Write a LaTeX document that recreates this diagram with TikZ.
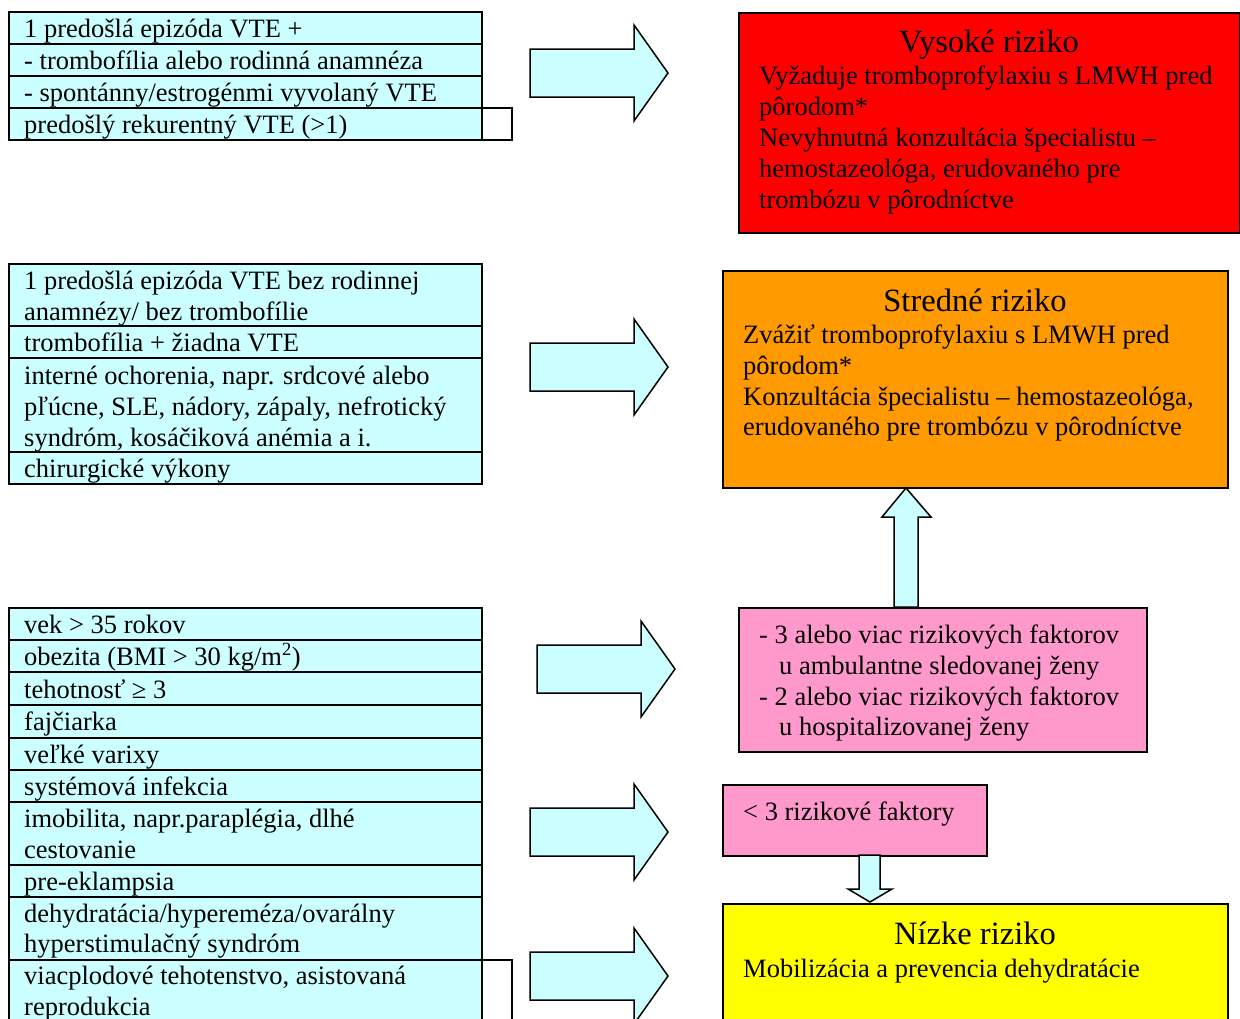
\documentclass[tikz,border=0pt]{standalone}
\usepackage{fontspec}
\setmainfont{Liberation Serif}
\definecolor{lcyan}{HTML}{CCFFFF}
\definecolor{rred}{HTML}{FF0000}
\definecolor{rorange}{HTML}{FF9900}
\definecolor{rpink}{HTML}{FF99CC}
\definecolor{ryellow}{HTML}{FFFF00}
\begin{document}
\begin{tikzpicture}[x=1pt,y=-1pt,
  cell/.style={draw=black,line width=2pt,fill=lcyan},
  emptycell/.style={draw=black,line width=2pt},
  riskbox/.style={draw=black,line width=2pt,anchor=north west,inner sep=0pt},
  txt/.style={anchor=base west,inner sep=0pt,font=\fontsize{26.5}{31}\selectfont},
  ttl/.style={anchor=base,inner sep=0pt,font=\fontsize{32.5}{38}\selectfont},
  blockarrow/.style={draw=black,line width=1.5pt,fill=lcyan,line join=miter},
]
\useasboundingbox (0,0) rectangle (1240,1018);
\clip (0,0) rectangle (1240,1018);

% ---------- Table 1 ----------
\draw[emptycell] (482,108) rectangle (512,140);
\foreach \a/\b [count=\i] in {12/44,44/76,76/108,108/140}
  \draw[cell] (9,\a) rectangle (482,\b);
\node[txt] (a1) at (24,37) {1 predošlá epizóda VTE +};
\node[txt] (a2) at (24,69) {- trombofília alebo rodinná anamnéza};
\node[txt] (a3) at (24,101) {- spontánny/estrogénmi vyvolaný VTE};
\node[txt] (a4) at (24,133) {predošlý rekurentný VTE (>1)};

% ---------- Table 2 ----------
\foreach \a/\b in {264/326,326/358,358/452,452/484}
  \draw[cell] (9,\a) rectangle (482,\b);
\node[txt] (b1) at (24,289) {1 predošlá epizóda VTE bez rodinnej};
\node[txt] (b2) at (24,320) {anamnézy/ bez trombofílie};
\node[txt] (b3) at (24,351) {trombofília + žiadna VTE};
\node[txt] (b4) at (24,384) {interné ochorenia, napr. srdcové alebo};
\node[txt] (b5) at (24,415) {pľúcne, SLE, nádory, zápaly, nefrotický};
\node[txt] (b6) at (24,446) {syndróm, kosáčiková anémia a i.};
\node[txt] (b7) at (24,477) {chirurgické výkony};

% ---------- Table 3 ----------
\draw[emptycell] (482,960) rectangle (512,1030);
\foreach \a/\b in {608/640,640/672,672/705,705/738,738/770,770/802,802/865,865/897,897/960,960/1030}
  \draw[cell] (9,\a) rectangle (482,\b);
\node[txt] (c1) at (24,633) {vek > 35 rokov};
\node[txt] (c2) at (24,665) {obezita (BMI > 30 kg/m\textsuperscript{2})};
\node[txt] (c3) at (24,698) {tehotnosť ≥ 3};
\node[txt] (c4) at (24,730) {fajčiarka};
\node[txt] (c5) at (24,763) {veľké varixy};
\node[txt] (c6) at (24,795) {systémová infekcia};
\node[txt] (c7) at (24,827) {imobilita, napr.paraplégia, dlhé};
\node[txt] (c8) at (24,858) {cestovanie};
\node[txt] (c9) at (24,890) {pre-eklampsia};
\node[txt] (c10) at (24,922) {dehydratácia/hypereméza/ovarálny};
\node[txt] (c11) at (24,952) {hyperstimulačný syndróm};
\node[txt] (c12) at (24,984) {viacplodové tehotenstvo, asistovaná};
\node[txt] (c13) at (24,1015) {reprodukcia};

% ---------- Right arrows ----------
\foreach \x/\y in {530/73,530/367,537/669,530/832,530/976}
  \draw[blockarrow] (\x,\y-24) -- ++(104,0) -- ++(0,-24) -- ++(34,48) -- ++(-34,48) -- ++(0,-24) -- ++(-104,0) -- cycle;

% ---------- Risk boxes ----------
\node[riskbox,fill=rred,minimum width=501pt,minimum height=220pt] (high) at (738,12) {};
\node[ttl] (hight) at (989,52) {Vysoké riziko};
\node[txt] (h1) at (759,84) {Vyžaduje tromboprofylaxiu s LMWH pred};
\node[txt] (h2) at (759,115) {pôrodom*};
\node[txt] (h3) at (759,146) {Nevyhnutná konzultácia špecialistu –};
\node[txt] (h4) at (759,177) {hemostazeológa, erudovaného pre};
\node[txt] (h5) at (759,208) {trombózu v pôrodníctve};

\node[riskbox,fill=rorange,minimum width=505pt,minimum height=217pt] (mid) at (722,270) {};
\node[ttl] (midt) at (975,311) {Stredné riziko};
\node[txt] (m1) at (743,343) {Zvážiť tromboprofylaxiu s LMWH pred};
\node[txt] (m2) at (743,374) {pôrodom*};
\node[txt] (m3) at (743,405) {Konzultácia špecialistu – hemostazeológa,};
\node[txt] (m4) at (743,435) {erudovaného pre trombózu v pôrodníctve};

\node[riskbox,fill=rpink,minimum width=408pt,minimum height=144pt] (many) at (738,607) {};
\node[txt] (p1) at (759,643) {- 3 alebo viac rizikových faktorov};
\node[txt] (p2) at (779,674) {u ambulantne sledovanej ženy};
\node[txt] (p3) at (759,705) {- 2 alebo viac rizikových faktorov};
\node[txt] (p4) at (779,735) {u hospitalizovanej ženy};

\node[riskbox,fill=rpink,minimum width=264pt,minimum height=71pt] (few) at (722,784) {};
\node[txt] (f1) at (743,820) {< 3 rizikové faktory};

\node[riskbox,fill=ryellow,minimum width=505pt,minimum height=140pt] (low) at (722,903) {};
\node[ttl] (lowt) at (975,944) {Nízke riziko};
\node[txt] (l1) at (743,977) {Mobilizácia a prevencia dehydratácie};

% ---------- Vertical arrows ----------
\draw[blockarrow] (894,607) -- (894,517) -- (882,517) -- (906,488) -- (931,517) -- (918,517) -- (918,607) -- cycle;
\draw[blockarrow] (859,855) -- (859,889) -- (848,889) -- (870,902) -- (892,889) -- (880,889) -- (880,855) -- cycle;
\end{tikzpicture}
\end{document}
